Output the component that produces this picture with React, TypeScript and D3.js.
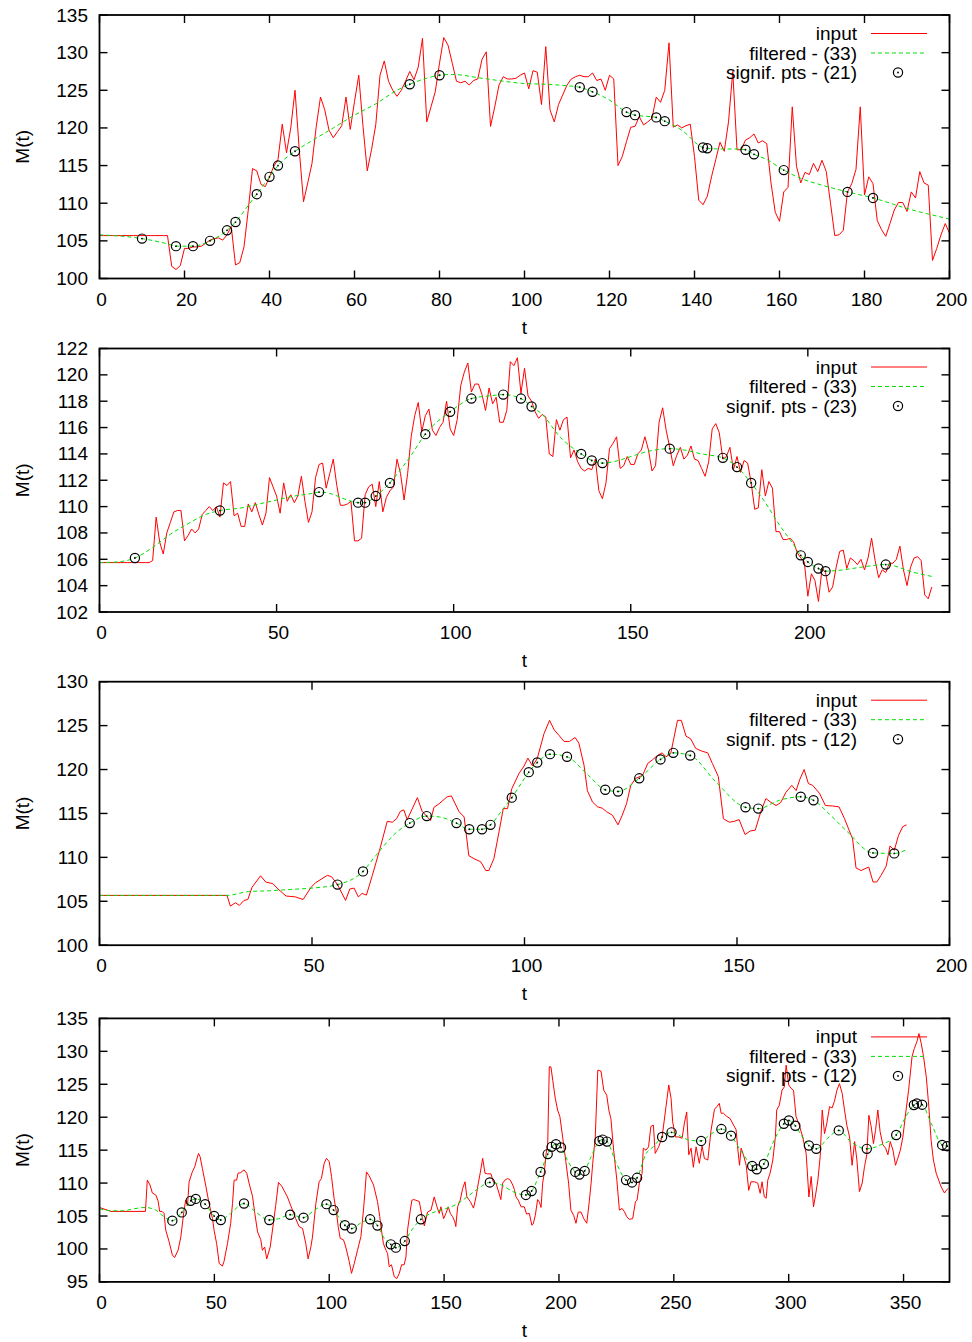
import React from "react";
import * as d3 from "d3";

// ---------- Panel 1 (t = 0..200) ----------
const p1Input: number[] = [
  105.7, 105.7, 105.7, 105.7, 105.7, 105.7, 105.7, 105.7, 105.7, 105.7,
  105.7, 105.7, 105.7, 105.7, 105.7, 105.7, 105.7, 101.6, 101.2, 101.7,
  104.0, 104.0, 104.2, 104.2, 104.3, 104.7, 105.1, 105.3, 105.4, 105.1,
  105.8, 106.9, 101.8, 102.1, 104.2, 109.1, 114.6, 114.3, 112.5, 112.2,
  113.5, 114.9, 115.8, 120.5, 116.7, 120.0, 125.0, 117.1, 110.2, 112.7,
  115.3, 120.2, 124.1, 122.4, 119.7, 118.7, 119.5, 120.3, 124.1, 119.8,
  123.5, 127.0, 120.2, 114.3, 117.1, 120.4, 127.0, 128.9, 126.2, 125.0,
  124.2, 125.0, 126.2, 127.5, 126.4, 128.1, 131.9, 120.8, 122.8, 124.8,
  128.6, 132.0, 131.0, 128.6, 126.2, 126.0, 126.2, 125.7, 126.3, 126.5,
  129.1, 130.1, 120.2, 122.8, 125.7, 126.8, 126.5, 126.5, 126.6, 127.0,
  127.3, 125.2, 127.6, 127.4, 123.1, 130.8, 122.4, 120.8, 123.1, 124.4,
  125.7, 126.5, 126.8, 127.0, 126.8, 126.8, 127.3, 126.3, 126.5, 125.0,
  127.0, 126.5, 115.0, 116.2, 118.2, 120.1, 120.2, 121.5, 120.4, 120.8,
  121.3, 124.1, 123.4, 125.0, 131.3, 120.1, 120.4, 120.0, 120.3, 120.5,
  116.2, 110.4, 109.8, 110.9, 113.5, 115.8, 118.1, 116.9, 120.8, 127.5,
  117.1, 117.1, 118.4, 118.7, 119.2, 118.0, 118.3, 117.9, 112.7, 108.8,
  107.6, 111.5, 112.1, 122.8, 114.9, 112.7, 114.1, 113.8, 115.3, 114.2,
  115.7, 114.2, 110.0, 105.7, 105.8, 106.4, 111.5, 112.6, 114.5, 122.8,
  111.1, 113.5, 112.6, 107.7, 106.5, 105.6, 107.3, 109.1, 110.1, 110.1,
  108.9, 111.5, 110.7, 114.2, 112.7, 112.4, 102.4, 104.0, 105.8, 107.3,
  106.0,
];
const p1Filtered: [number, number][] = [
  [0, 105.8], [10, 105.3], [16, 104.6], [18, 104.3], [22, 104.3], [26, 105.0],
  [30, 106.4], [32, 107.5], [35, 109.7], [37, 111.2], [40, 113.5], [42, 115.0],
  [46, 116.9], [50, 118.3], [55, 120.0], [60, 121.7], [65, 123.2], [70, 125.0],
  [73, 125.8], [77, 126.6], [80, 127.0], [83, 127.1], [90, 126.6], [100, 125.9],
  [105, 125.8], [110, 125.6], [113, 125.4], [116, 124.8], [120, 123.7], [124, 122.1],
  [126, 121.7], [131, 121.4], [133, 120.9], [137, 119.7], [142, 117.4], [143, 117.3],
  [146, 117.2], [150, 117.2], [152, 117.1], [154, 116.5], [157, 115.8], [161, 114.4],
  [165, 113.3], [170, 112.4], [176, 111.5], [182, 110.7], [190, 109.3], [200, 107.9],
];
const p1Points: [number, number][] = [
  [10, 105.3], [18, 104.3], [22, 104.3], [26, 105.0], [30, 106.4], [32, 107.5],
  [37, 111.2], [40, 113.5], [42, 115.0], [46, 116.9], [73, 125.8], [80, 127.0],
  [113, 125.4], [116, 124.8], [124, 122.1], [126, 121.7], [131, 121.4], [133, 120.9],
  [142, 117.4], [143, 117.3], [152, 117.1], [154, 116.5], [161, 114.4], [176, 111.5],
  [182, 110.7],
];

// ---------- Panel 2 (t = 0..235) ----------
const p2Input: number[] = [
  105.75, 105.75, 105.75, 105.75, 105.75, 105.75, 105.75, 105.75, 105.75, 105.75,
  105.75, 105.75, 105.75, 105.75, 105.75, 105.9, 109.2, 107.3, 106.4, 108.0,
  108.8, 109.6, 109.7, 109.7, 107.4, 107.8, 108.3, 108.0, 108.3, 109.4,
  109.7, 110.0, 109.7, 110.0, 109.2, 111.8, 111.6, 111.9, 109.3, 109.5,
  108.5, 108.5, 110.2, 109.6, 110.3, 109.4, 108.6, 109.5, 112.2, 111.5,
  110.8, 109.5, 111.8, 110.4, 110.9, 110.3, 110.8, 112.3, 110.4, 108.8,
  109.6, 112.2, 113.2, 113.3, 111.4, 112.5, 113.6, 111.6, 110.1, 110.1,
  110.2, 110.4, 107.4, 107.4, 107.6, 110.9, 111.5, 111.7, 110.0, 111.9,
  109.6, 110.7, 111.2, 111.5, 113.6, 112.5, 110.5, 112.5, 115.3, 116.9,
  117.9, 115.7, 116.9, 117.4, 115.8, 115.4, 116.0, 116.4, 118.0, 115.9,
  115.4, 116.6, 119.2, 120.2, 120.9, 118.7, 119.3, 119.3, 118.5, 117.3,
  119.0, 117.8, 118.3, 116.4, 116.4, 117.3, 121.0, 120.7, 121.3, 118.6,
  120.5, 118.4, 118.0, 117.2, 116.7, 117.0, 116.8, 114.0, 113.8, 116.6,
  115.8, 116.6, 116.8, 113.7, 114.3, 113.4, 112.9, 112.7, 112.9, 112.8,
  113.6, 111.2, 110.6, 111.8, 114.4, 114.8, 115.3, 112.9, 113.1, 113.8,
  113.2, 113.2, 114.0, 114.3, 115.3, 114.3, 112.7, 113.1, 116.4, 117.5,
  115.8, 114.5, 113.1, 113.9, 114.5, 113.6, 113.9, 114.6, 113.6, 113.5,
  112.9, 112.3, 113.4, 115.9, 116.3, 115.6, 113.6, 113.8, 114.5, 112.8,
  113.8, 112.6, 113.5, 113.3, 111.8, 109.8, 109.9, 112.8, 110.8, 111.9,
  111.4, 108.1, 108.1, 107.5, 107.5, 107.6, 107.3, 106.5, 106.1, 105.8,
  103.2, 104.9, 104.4, 102.8, 105.3, 105.0, 103.5, 103.9, 105.4, 106.6,
  106.7, 105.3, 106.1, 105.9, 105.6, 106.0, 105.2, 106.1, 107.6, 105.9,
  104.6, 105.2, 105.0, 105.7, 105.7, 106.0, 107.0, 105.2, 104.0, 105.4,
  106.1, 106.2, 105.9, 103.3, 103.0, 103.9,
];
const p2Filtered: [number, number][] = [
  [0, 105.75], [5, 105.8], [10, 106.1], [15, 106.9], [20, 107.9], [25, 108.7],
  [30, 109.4], [34, 109.7], [40, 109.9], [45, 110.2], [50, 110.5], [55, 110.8],
  [60, 111.0], [62, 111.1], [65, 111.0], [70, 110.5], [73, 110.3], [75, 110.3],
  [78, 110.8], [82, 111.8], [85, 112.8], [88, 113.9], [92, 115.5], [99, 117.2],
  [105, 118.2], [110, 118.4], [114, 118.5], [119, 118.2], [122, 117.6], [125, 117.0],
  [130, 115.3], [136, 114.0], [139, 113.5], [142, 113.3], [145, 113.4], [150, 113.8],
  [155, 114.2], [161, 114.4], [165, 114.3], [170, 114.0], [176, 113.7], [180, 113.0],
  [184, 111.8], [188, 110.3], [192, 108.6], [196, 107.1], [198, 106.3], [200, 105.8],
  [203, 105.3], [205, 105.1], [210, 105.2], [215, 105.4], [222, 105.6], [230, 105.0],
  [235, 104.7],
];
const p2Points: [number, number][] = [
  [10, 106.1], [34, 109.7], [62, 111.1], [73, 110.3], [75, 110.3], [78, 110.8],
  [82, 111.8], [92, 115.5], [99, 117.2], [105, 118.2], [114, 118.5], [119, 118.2],
  [122, 117.6], [136, 114.0], [139, 113.5], [142, 113.3], [161, 114.4], [176, 113.7],
  [180, 113.0], [184, 111.8], [198, 106.3], [200, 105.8], [203, 105.3], [205, 105.1],
  [222, 105.6],
];

// ---------- Panel 3 (t = 0..190) ----------
const p3Input: [number, number][] = [
  [0, 105.67], [30, 105.67], [30.8, 104.45], [32, 104.83], [32.9, 104.53], [34, 105.1],
  [34.9, 105.2], [35.9, 106.6], [37.9, 107.9], [39.1, 107.2], [40.8, 107.0], [42, 106.4],
  [43.9, 105.6], [46.1, 105.5], [47.9, 105.2], [49.8, 106.6], [50.8, 107.1], [53.6, 107.95],
  [54.6, 107.8], [56, 106.9], [57.9, 105.1], [58.9, 106.4], [59.9, 106.5], [60.9, 105.5],
  [61.8, 105.9], [62.8, 105.7], [64.2, 107.95], [66, 111.0], [67.7, 114.1], [68.9, 114.0],
  [69.9, 114.4], [70.8, 115.25], [71.6, 115.4], [72.4, 114.3], [74.8, 116.8], [75.9, 115.25],
  [77.9, 114.2], [78.7, 115.7], [79.9, 116.1], [81.8, 116.9], [82.8, 117.0], [84.6, 115.2],
  [85.8, 114.6], [86.9, 110.2], [88.1, 109.85], [89.7, 109.5], [90.9, 108.5], [91.6, 108.5],
  [92.8, 109.85], [94, 112.9], [95, 115.55], [96, 115.55], [97, 117.8], [98.7, 119.55],
  [99.9, 120.4], [100.8, 121.3], [101.9, 120.4], [103, 121.25], [104.6, 124.1], [105.9, 125.6],
  [107, 124.5], [108.1, 123.9], [109.3, 123.2], [110.6, 123.2], [111.9, 123.65], [112.8, 123.0],
  [114, 120.5], [114.8, 117.6], [116, 116.3], [117.2, 115.75], [118.3, 115.6], [119.3, 115.2],
  [120.7, 114.8], [122, 113.7], [123, 114.8], [124, 116.1], [125, 118.2], [126.2, 119.0],
  [127.8, 119.35], [129, 120.7], [130.1, 121.1], [131.3, 121.6], [132.4, 121.9], [133.3, 121.45],
  [134.4, 121.8], [136, 125.6], [136.9, 125.6], [138, 123.8], [139.1, 123.5], [140.3, 122.4],
  [141.7, 122.1], [143.1, 121.9], [144.2, 120.7], [145.6, 119.2], [146.8, 114.4], [148.2, 114.0],
  [149.3, 114.1], [150.5, 114.3], [151.9, 112.6], [153.1, 113.0], [154.3, 113.1], [155.6, 115.2],
  [156.8, 116.7], [158, 116.25], [159.2, 115.9], [160.3, 116.25], [161.5, 117.4], [162.9, 118.2],
  [163.9, 117.6], [164.8, 118.9], [165.8, 120.0], [166.8, 118.4], [167.8, 118.2], [169.4, 117.3],
  [170.8, 115.9], [172.5, 115.85], [174, 115.75], [175.3, 114.4], [177.2, 112.1], [178, 108.8],
  [179.2, 108.5], [181, 108.9], [182, 107.2], [182.9, 107.2], [183.9, 107.95], [185.1, 109.0],
  [186, 111.3], [187, 110.8], [188, 112.5], [189, 113.5], [189.9, 113.7],
];
const p3Filtered: [number, number][] = [
  [0, 105.67], [30, 105.67], [35, 106.1], [40, 106.2], [45, 106.35], [50, 106.5],
  [56, 106.9], [62, 108.4], [65, 110.2], [70, 112.9], [73, 113.9], [77, 114.7],
  [80, 114.6], [84, 113.9], [87, 113.2], [90, 113.2], [92, 113.7], [95, 115.55],
  [97, 116.8], [100, 119.0], [101, 119.7], [103, 120.8], [106, 121.75], [110, 121.45],
  [115, 119.35], [119, 117.7], [122, 117.5], [127, 119.0], [132, 121.15], [135, 121.9],
  [139, 121.6], [145, 118.6], [152, 115.7], [155, 115.55], [160, 116.5], [165, 116.9],
  [168, 116.5], [172, 114.8], [176, 112.9], [182, 110.5], [187, 110.45], [190, 110.9],
];
const p3Points: [number, number][] = [
  [56, 106.9], [62, 108.4], [73, 113.9], [77, 114.7], [84, 113.9], [87, 113.2],
  [90, 113.2], [92, 113.7], [97, 116.8], [101, 119.7], [103, 120.8], [106, 121.75],
  [110, 121.45], [119, 117.7], [122, 117.5], [127, 119.0], [132, 121.15], [135, 121.9],
  [139, 121.6], [152, 115.7], [155, 115.55], [165, 116.9], [168, 116.5], [182, 110.5],
  [187, 110.45],
];

// ---------- Panel 4 (t = 0..369) ----------
const p4Input: [number, number][] = [
  [0, 106.3], [5, 105.7], [20, 105.7], [20.8, 110.45], [22, 109.7], [23, 108.5],
  [24.5, 108.2], [25.5, 107.3], [26.2, 105.7], [27.3, 105.7], [28.1, 105.4], [28.8, 102.9],
  [30.3, 101.1], [31.7, 99.1], [32.7, 98.7], [34.2, 99.8], [35.4, 101.8], [36.8, 105.85],
  [37.5, 107.4], [38.3, 106.6], [39, 110.2], [40.4, 111.7], [41.5, 112.5], [42, 113.2],
  [43.1, 114.5], [43.8, 114.0], [44.8, 112.2], [46.2, 109.7], [47.7, 106.9], [49.2, 104.6],
  [49.9, 102.8], [51, 100.8], [52.1, 97.8], [53.5, 97.4], [54.2, 98.1], [55.7, 100.8],
  [57.1, 103.9], [57.9, 106.9], [58.6, 110.45], [59.7, 110.45], [60.3, 111.5], [61.5, 111.6],
  [62.9, 112.0], [64.1, 111.5], [65.1, 110.0], [66.6, 108.0], [67.6, 105.4], [68.8, 102.6],
  [70.2, 101.4], [70.9, 99.8], [71.9, 100.3], [72.8, 98.5], [74.3, 100.3], [75.7, 103.9],
  [76.7, 106.6], [77.9, 110.1], [79.4, 109.5], [80.3, 108.9], [81.8, 107.9], [84, 105.9],
  [85.4, 104.6], [86.9, 103.4], [88.4, 103.1], [89.8, 100.8], [90.8, 98.5], [92, 100.3],
  [92.7, 101.8], [94.2, 106.9], [95.6, 110.2], [96.6, 110.7], [97.8, 113.0], [98.8, 113.75],
  [100, 113.25], [101, 111.0], [102.1, 107.7], [103.2, 105.4], [103.9, 103.4], [104.8, 101.6],
  [106.2, 101.4], [107.2, 100.3], [108.7, 98.1], [109.7, 96.3], [110.9, 97.8], [112.3, 99.8],
  [113.8, 101.9], [114.9, 105.9], [115.5, 108.4], [116.2, 111.7], [117.4, 111.1], [119.3, 109.7],
  [121, 107.2], [122, 104.9], [122.5, 103.4], [123.6, 100.8], [124.7, 99.8], [125.4, 99.3],
  [126.1, 97.3], [127.1, 97.6], [128.3, 95.8], [129.4, 95.5], [130.5, 96.3], [131.5, 97.6],
  [132.6, 97.6], [133.4, 98.8], [134.1, 102.9], [135.3, 105.9], [136, 107.4], [136.7, 107.5],
  [137.7, 107.4], [139.2, 107.2], [140.6, 104.6], [141.4, 103.5], [142.8, 105.6], [144.3, 105.9],
  [145.7, 107.9], [146.9, 106.4], [147.9, 105.4], [148.6, 106.4], [149.8, 104.6], [150.8, 105.4],
  [151.8, 106.4], [152.7, 105.4], [153.7, 104.9], [154.7, 104.1], [155.1, 103.4], [155.9, 106.4],
  [157, 107.4], [158.1, 109.2], [159.1, 110.2], [159.9, 107.9], [161.4, 107.2], [162.8, 106.2],
  [163.9, 107.9], [164.9, 110.0], [165.7, 111.5], [166.8, 113.75], [167.8, 111.5], [168.9, 111.4],
  [170.4, 111.4], [171.4, 110.2], [172.6, 110.0], [174.7, 107.5], [175.5, 110.0], [176.5, 110.45],
  [177.7, 110.7], [178.8, 110.45], [179.9, 109.7], [180.6, 109.0], [181.3, 107.9], [182.3, 107.4],
  [183.5, 106.4], [184.9, 106.4], [185.9, 105.3], [187.1, 105.4], [188.2, 103.6], [188.8, 103.8],
  [189.7, 105.1], [190.7, 107.5], [191.5, 107.1], [192.2, 106.3], [192.9, 110.0], [193.6, 111.5],
  [194.4, 114.5], [195.1, 115.8], [195.8, 127.65], [196.5, 127.65], [197.3, 125.6], [198.4, 122.85],
  [199.4, 121.1], [200.4, 120.1], [201.6, 117.0], [203, 113.25], [204.2, 110.0], [205.2, 105.9],
  [206.4, 105.1], [207.4, 103.9], [208.4, 105.6], [209.6, 105.6], [210.8, 104.6], [212.1, 103.9],
  [213.2, 107.2], [214, 110.0], [214.7, 113.0], [215.8, 117.0], [216.9, 127.15], [218.3, 127.0],
  [219.5, 124.1], [220.8, 123.35], [221.7, 121.1], [222.6, 119.8], [223.8, 115.0], [225.2, 110.45],
  [226.3, 105.9], [227.5, 106.15], [228.5, 105.65], [229.5, 104.9], [230.6, 104.5], [232.1, 104.6],
  [233.3, 107.2], [234, 107.4], [235, 110.0], [236.2, 111.5], [236.7, 115.3], [237.9, 115.0],
  [239, 115.5], [240, 118.6], [241.1, 118.8], [241.9, 114.5], [243.4, 115.5], [244.9, 117.0],
  [246.6, 121.6], [247.8, 124.9], [248.8, 122.85], [249.5, 119.3], [250.7, 117.0], [252.1, 117.0],
  [253.6, 116.8], [254.6, 119.1], [255.6, 120.8], [256.5, 114.3], [257.5, 115.3], [258.5, 112.4],
  [259.7, 115.5], [261.1, 113.0], [262.3, 115.6], [263.3, 113.75], [264.8, 113.5], [266.2, 118.0],
  [267.7, 121.2], [268.7, 121.6], [269.8, 122.1], [270.6, 120.6], [271.6, 120.6], [273.1, 120.1],
  [274.5, 119.8], [276, 118.8], [277.1, 118.1], [277.9, 115.0], [278.6, 112.7], [279.3, 115.3],
  [280.3, 114.3], [281.5, 112.7], [282.6, 108.9], [283.6, 110.2], [285.1, 110.2], [286.5, 110.0],
  [287.6, 108.45], [288.4, 110.2], [289.4, 107.9], [290.2, 107.7], [290.9, 110.45], [291.9, 111.5],
  [293.1, 113.5], [294.2, 117.0], [294.8, 121.1], [295.9, 121.8], [297.1, 124.1], [298.1, 124.6],
  [298.9, 127.9], [300, 124.9], [301, 124.4], [302.1, 124.1], [303.2, 120.1], [304.6, 118.8],
  [306.1, 117.0], [307.6, 114.5], [308.8, 107.9], [309.8, 111.0], [310.8, 106.4], [311.7, 108.2],
  [312.7, 110.45], [313.7, 114.0], [314.6, 121.1], [315.6, 117.5], [316.6, 119.1], [317.8, 121.6],
  [318.9, 121.4], [319.9, 122.4], [321, 124.1], [322.1, 125.1], [323.3, 123.6], [324.3, 121.1],
  [325.3, 118.8], [326.5, 117.0], [327.6, 112.7], [328.7, 116.3], [329.7, 113.5], [330.8, 108.7],
  [332, 110.0], [333, 112.5], [334, 114.3], [334.9, 120.3], [335.9, 118.6], [336.9, 116.0],
  [337.8, 118.0], [338.8, 121.1], [339.8, 117.8], [341, 115.8], [342.2, 115.3], [343.2, 114.3],
  [344.2, 116.3], [345.4, 115.0], [346.5, 112.7], [347.5, 113.75], [348.6, 115.0], [349.7, 117.0],
  [351.1, 121.1], [352.2, 124.1], [353.7, 129.2], [354.7, 130.45], [355.8, 131.45], [356.7, 132.7],
  [357.7, 131.2], [358.7, 129.2], [359.9, 126.1], [361, 121.6], [362, 116.5], [363, 113.5],
  [364.2, 111.5], [365.3, 110.45], [366.4, 109.4], [367.8, 108.5], [369.3, 109.2],
];
const p4Filtered: [number, number][] = [
  [0, 106.1], [5, 105.8], [10, 105.8], [15, 106.1], [20, 106.3], [24.5, 105.9],
  [28, 104.9], [31.7, 104.3], [35.8, 105.55], [39.7, 107.3], [41.9, 107.6], [46, 106.8],
  [49.9, 105.0], [52.8, 104.4], [57, 105.4], [62.9, 106.9], [68, 105.6], [73.9, 104.4],
  [78, 104.6], [83, 105.2], [88.8, 104.75], [93, 105.75], [98.8, 106.8], [101.9, 105.9],
  [106.8, 103.6], [109.8, 103.1], [114, 104.0], [117.8, 104.5], [121, 103.55], [124, 101.6],
  [126.8, 100.7], [129, 100.2], [132.9, 101.2], [136, 102.9], [139.9, 104.5], [145, 105.5],
  [150, 106.05], [155, 106.7], [160, 107.9], [165, 109.2], [169.9, 110.1], [175, 109.7],
  [180, 108.7], [185.6, 108.2], [188.1, 108.8], [192, 111.7], [195.1, 114.4], [196.8, 115.5],
  [198.7, 115.9], [200.9, 115.4], [204, 113.25], [207.1, 111.7], [208.9, 111.3], [211.2, 111.85],
  [214, 114.0], [217.6, 116.4], [219, 116.6], [220.9, 116.3], [225, 113.0], [229.2, 110.45],
  [231.8, 110.1], [234, 110.8], [238, 114.5], [241, 115.5], [244.9, 117.0], [249, 117.7],
  [253, 117.1], [257, 116.5], [261.9, 116.4], [266, 117.4], [270.7, 118.2], [274.9, 117.2],
  [279, 115.0], [284.1, 112.6], [286.1, 112.1], [289.2, 112.9], [293, 116.0], [297.9, 119.0],
  [300.1, 119.5], [302.9, 118.7], [306, 117.0], [308.8, 115.7], [312, 115.2], [317, 116.8],
  [321.8, 118.0], [327, 116.3], [334, 115.2], [340, 115.8], [346.8, 117.3], [351, 120.1],
  [354.5, 121.85], [355.8, 122.1], [358.1, 121.9], [362, 119.1], [366.8, 115.8], [369, 115.6],
];
const p4Points: [number, number][] = [
  [31.7, 104.3], [35.8, 105.55], [39.7, 107.3], [41.9, 107.6], [46, 106.8], [49.9, 105.0],
  [52.8, 104.4], [62.9, 106.9], [73.9, 104.4], [83, 105.2], [88.8, 104.75], [98.8, 106.8],
  [101.9, 105.9], [106.8, 103.6], [109.8, 103.1], [117.8, 104.5], [121, 103.55], [126.8, 100.7],
  [129, 100.2], [132.9, 101.2], [139.9, 104.5], [169.9, 110.1], [185.6, 108.2], [188.1, 108.8],
  [192, 111.7], [195.1, 114.4], [196.8, 115.5], [198.7, 115.9], [200.9, 115.4], [207.1, 111.7],
  [208.9, 111.3], [211.2, 111.85], [217.6, 116.4], [219, 116.6], [220.9, 116.3], [229.2, 110.45],
  [231.8, 110.1], [234, 110.8], [244.9, 117.0], [249, 117.7], [261.9, 116.4], [270.7, 118.2],
  [274.9, 117.2], [284.1, 112.6], [286.1, 112.1], [289.2, 112.9], [297.9, 119.0], [300.1, 119.5],
  [302.9, 118.7], [308.8, 115.7], [312, 115.2], [321.8, 118.0], [334, 115.2], [346.8, 117.3],
  [354.5, 121.85], [355.8, 122.1], [358.1, 121.9], [366.8, 115.8], [369, 115.6],
];

// ---------- Axes and legend labels ----------
const xDomains: [number, number][] = [[0, 200], [0, 240], [0, 200], [0, 370]];
const yDomains: [number, number][] = [[100, 135], [102, 122], [100, 130], [95, 135]];
const xTickSets: number[][] = [
  [0, 20, 40, 60, 80, 100, 120, 140, 160, 180, 200],
  [0, 50, 100, 150, 200],
  [0, 50, 100, 150, 200],
  [0, 50, 100, 150, 200, 250, 300, 350],
];
const yTickSets: number[][] = [
  [100, 105, 110, 115, 120, 125, 130, 135],
  [102, 104, 106, 108, 110, 112, 114, 116, 118, 120, 122],
  [100, 105, 110, 115, 120, 125, 130],
  [95, 100, 105, 110, 115, 120, 125, 130, 135],
];
const pointCounts: number[] = [21, 23, 12, 12];
const legendInput = "input";
const legendFiltered = "filtered - (33)";
const legendPoints = "signif. pts - ";
const xLabel = "t";
const yLabel = "M(t)";

const indexed = (vals: number[]): [number, number][] => vals.map((v, i) => [i, v]);

const panels = [
  { input: indexed(p1Input), filtered: p1Filtered, points: p1Points },
  { input: indexed(p2Input), filtered: p2Filtered, points: p2Points },
  { input: p3Input, filtered: p3Filtered, points: p3Points },
  { input: p4Input, filtered: p4Filtered, points: p4Points },
];

const W = 972;
const H = 1342;
const LEFT = 99.5;
const RIGHT = 949.5;
const PLOT_H = 263.5;
const TOPS = [15, 348.5, 681.7, 1018.4];
const FONT = "'Liberation Sans', Arial, Helvetica, sans-serif";
const FS = 19;
const TICK = 8;
const RED = "#ff0000";
const GREEN = "#00e000";

function Panel({ idx }: { idx: number }) {
  const p = panels[idx];
  const top = TOPS[idx];
  const bottom = top + PLOT_H;
  const x = d3.scaleLinear().domain(xDomains[idx]).range([LEFT, RIGHT]);
  const y = d3.scaleLinear().domain(yDomains[idx]).range([bottom, top]);
  const rawLine = d3
    .line<[number, number]>()
    .x((d) => x(d[0]))
    .y((d) => y(d[1]));
  const smoothLine = d3
    .line<[number, number]>()
    .x((d) => x(d[0]))
    .y((d) => y(d[1]))
    .curve(d3.curveMonotoneX);
  const clipId = `clip-${idx}`;
  const legX = 857;
  const sx0 = 871;
  const sx1 = 927;
  const rows = [top + 18.5, top + 38, top + 57.5];

  return (
    <g>
      <defs>
        <clipPath id={clipId}>
          <rect x={LEFT} y={top} width={RIGHT - LEFT} height={PLOT_H} />
        </clipPath>
      </defs>

      {/* tick marks on all four sides */}
      {yTickSets[idx].map((t) => (
        <g key={`y${t}`}>
          <line x1={LEFT} x2={LEFT + TICK} y1={y(t)} y2={y(t)} stroke="#000" strokeWidth={1.4} />
          <line x1={RIGHT} x2={RIGHT - TICK} y1={y(t)} y2={y(t)} stroke="#000" strokeWidth={1.4} />
          <text
            x={88}
            y={y(t)}
            textAnchor="end"
            dominantBaseline="central"
            fontFamily={FONT}
            fontSize={FS}
            fill="#000"
          >
            {t}
          </text>
        </g>
      ))}
      {xTickSets[idx].map((t) => (
        <g key={`x${t}`}>
          <line x1={x(t)} x2={x(t)} y1={bottom} y2={bottom - TICK} stroke="#000" strokeWidth={1.4} />
          <line x1={x(t)} x2={x(t)} y1={top} y2={top + TICK} stroke="#000" strokeWidth={1.4} />
          <text
            x={x(t) + 2}
            y={bottom + 20.5}
            textAnchor="middle"
            dominantBaseline="central"
            fontFamily={FONT}
            fontSize={FS}
            fill="#000"
          >
            {t}
          </text>
        </g>
      ))}

      <text
        x={(LEFT + RIGHT) / 2}
        y={bottom + 48.5}
        textAnchor="middle"
        dominantBaseline="central"
        fontFamily={FONT}
        fontSize={FS}
        fill="#000"
      >
        {xLabel}
      </text>
      <text
        transform={`translate(22,${top + PLOT_H / 2}) rotate(-90)`}
        textAnchor="middle"
        dominantBaseline="central"
        fontFamily={FONT}
        fontSize={FS}
        fill="#000"
      >
        {yLabel}
      </text>

      {/* series */}
      <g clipPath={`url(#${clipId})`}>
        <path d={rawLine(p.input) ?? ""} fill="none" stroke={RED} strokeWidth={1} strokeLinejoin="round" />
        <path
          d={smoothLine(p.filtered) ?? ""}
          fill="none"
          stroke={GREEN}
          strokeWidth={1}
          strokeDasharray="4,3"
        />
        {p.points.map((d, i) => (
          <g key={i}>
            <circle cx={x(d[0])} cy={y(d[1])} r={4.6} fill="none" stroke="#000" strokeWidth={1.2} />
            <circle cx={x(d[0])} cy={y(d[1])} r={0.9} fill="#000" />
          </g>
        ))}
      </g>

      {/* legend */}
      <g fontFamily={FONT} fontSize={FS}>
        <text x={legX} y={rows[0]} textAnchor="end" dominantBaseline="central" fill="#000">
          {legendInput}
        </text>
        <line x1={sx0} x2={sx1} y1={rows[0]} y2={rows[0]} stroke={RED} strokeWidth={1} />
        <text x={legX} y={rows[1]} textAnchor="end" dominantBaseline="central" fill="#000">
          {legendFiltered}
        </text>
        <line
          x1={sx0}
          x2={sx1}
          y1={rows[1]}
          y2={rows[1]}
          stroke={GREEN}
          strokeWidth={1}
          strokeDasharray="4,3"
        />
        <text x={legX} y={rows[2]} textAnchor="end" dominantBaseline="central" fill="#000">
          {`${legendPoints}(${pointCounts[idx]})`}
        </text>
        <circle cx={898} cy={rows[2]} r={4.6} fill="none" stroke="#000" strokeWidth={1.2} />
        <circle cx={898} cy={rows[2]} r={0.9} fill="#000" />
      </g>

      {/* frame */}
      <rect
        x={LEFT}
        y={top}
        width={RIGHT - LEFT}
        height={PLOT_H}
        fill="none"
        stroke="#000"
        strokeWidth={1.8}
      />
    </g>
  );
}

export default function App() {
  return (
    <svg
      width={W}
      height={H}
      viewBox={`0 0 ${W} ${H}`}
      style={{ position: "absolute", left: 0, top: 0, background: "#fff" }}
    >
      <rect x={0} y={0} width={W} height={H} fill="#fff" />
      {panels.map((_, i) => (
        <Panel key={i} idx={i} />
      ))}
    </svg>
  );
}
